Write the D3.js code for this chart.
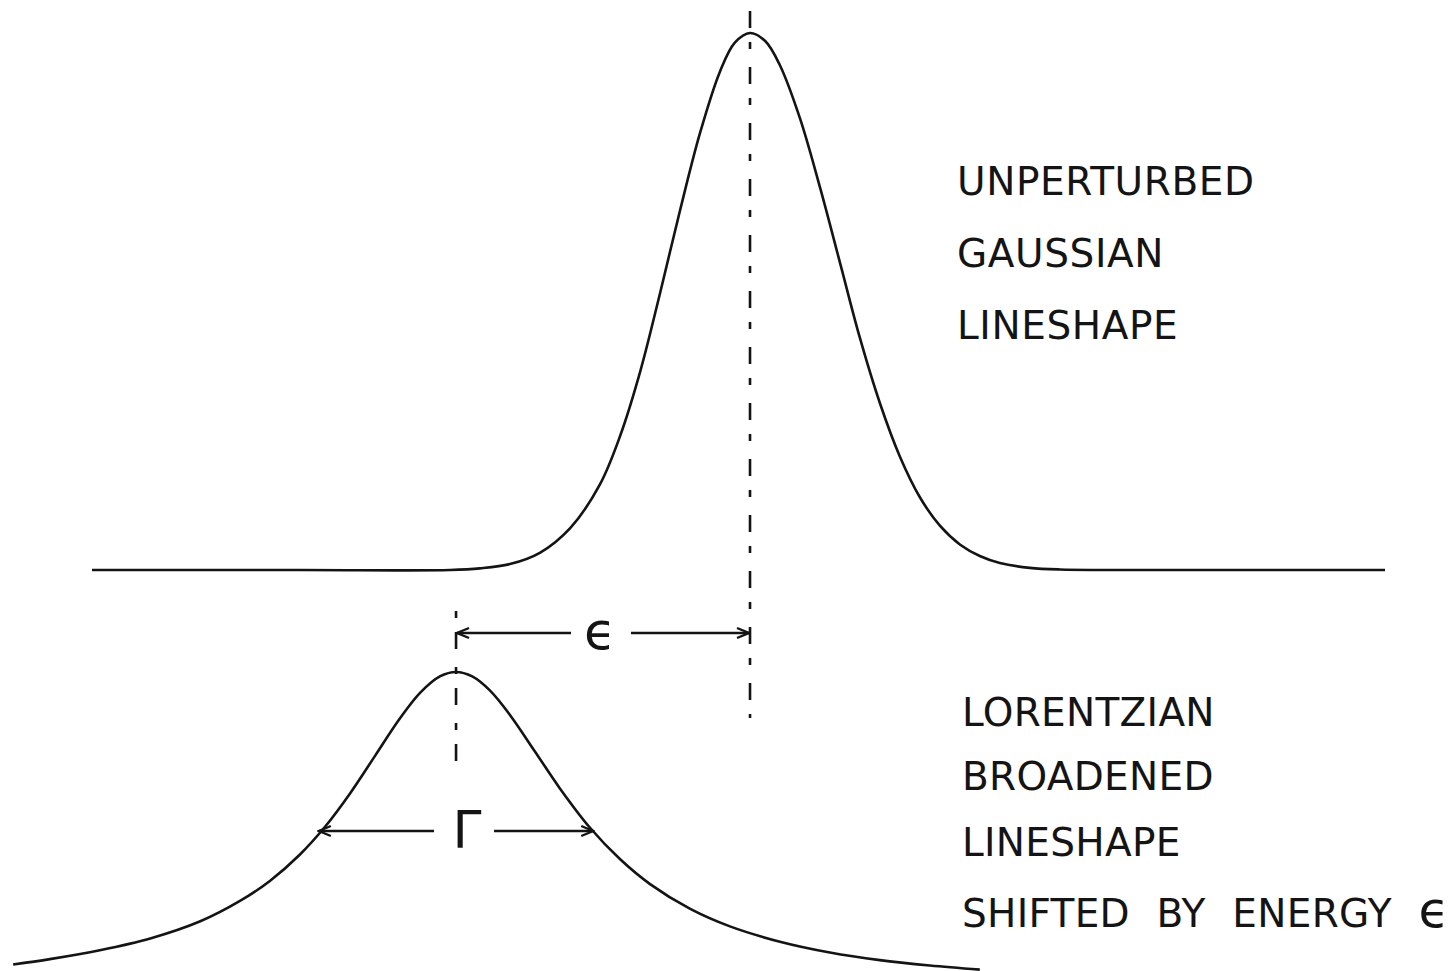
<!DOCTYPE html>
<html>
<head>
<meta charset="utf-8">
<script src="https://cdn.jsdelivr.net/npm/d3@7"></script>
<style>
  html, body { margin: 0; padding: 0; background: #ffffff; }
  svg { display: block; }
  .label { font-family: "DejaVu Sans", "Liberation Sans", sans-serif; fill: #141414; }
</style>
</head>
<body>
<svg id="chart" width="1454" height="971"></svg>
<script>
// Energy axis in arbitrary units, Gaussian centred at 0.
const gaussEnergy = [-13.43, -9.18, -6.12, -5.51, -4.90, -4.29, -3.67, -3.06, -2.65, -2.24, -1.84, -1.43, -1.02, -0.61, -0.31, 0,
                     0.31, 0.61, 1.02, 1.43, 1.84, 2.24, 2.65, 3.06, 3.47, 3.88, 4.29, 4.69, 5.10, 5.71, 6.33, 9.18, 12.96];
const gaussIntensity = [0, 0, 0, 0.003, 0.011, 0.032, 0.078, 0.160, 0.250, 0.370, 0.514, 0.669, 0.814, 0.929, 0.982, 1,
                        0.985, 0.940, 0.841, 0.712, 0.571, 0.433, 0.311, 0.211, 0.135, 0.082, 0.047, 0.026, 0.013, 0.004, 0.001, 0, 0];

// Lorentzian, shifted by -epsilon
const lorentzEnergy = [-15.04, -14.29, -13.27, -12.24, -11.22, -10.41, -9.80, -9.18, -8.67, -8.16, -7.65, -7.14, -6.73, -6.33, -6.0,
                       -5.67, -5.31, -4.90, -4.39, -3.88, -3.27, -2.65, -2.04, -1.22, -0.41, 0.61, 1.63, 2.65, 3.67, 4.69];
const lorentzIntensity = [0.080, 0.097, 0.125, 0.162, 0.216, 0.280, 0.343, 0.427, 0.514, 0.619, 0.737, 0.855, 0.935, 0.986, 1.0,
                          0.986, 0.942, 0.865, 0.750, 0.634, 0.511, 0.411, 0.333, 0.255, 0.200, 0.152, 0.118, 0.094, 0.077, 0.064];

const shiftEnergy = 6.0;     // epsilon
const lorentzFWHM = 5.6;     // Gamma

const gaussLabels = ["UNPERTURBED", "GAUSSIAN", "LINESHAPE"];
const lorentzLabels = ["LORENTZIAN", "BROADENED", "LINESHAPE", "SHIFTED BY ENERGY "];
const epsSymbol = "\u03F5";
const gammaSymbol = "\u0393";

const svg = d3.select("#chart");
const ink = "#141414";

const x = d3.scaleLinear().domain([-13.43, 12.96]).range([92, 1385]);
const yTop = d3.scaleLinear().domain([0, 1]).range([570, 33]);
const yBot = d3.scaleLinear().domain([0, 1]).range([990, 672]);

// open arrowhead
svg.append("defs").append("marker")
  .attr("id", "head")
  .attr("viewBox", "-14 -7 16 14")
  .attr("markerUnits", "userSpaceOnUse")
  .attr("markerWidth", 16).attr("markerHeight", 14)
  .attr("refX", 0).attr("refY", 0)
  .attr("orient", "auto")
  .append("path")
  .attr("d", "M-12,-5 L0,0 L-12,5")
  .attr("fill", "none").attr("stroke", ink).attr("stroke-width", 2.4)
  .attr("stroke-linejoin", "miter");

// curves
const gaussData = gaussEnergy.map((e, i) => [e, gaussIntensity[i]]);
const lorentzData = lorentzEnergy.map((e, i) => [e, lorentzIntensity[i]]);
const smooth = d3.curveCatmullRom.alpha(0.5);

svg.append("path")
  .datum(gaussData)
  .attr("d", d3.line().x(d => x(d[0])).y(d => yTop(d[1])).curve(smooth))
  .attr("fill", "none").attr("stroke", ink).attr("stroke-width", 2.6)
  .attr("stroke-linejoin", "round");

svg.append("path")
  .datum(lorentzData)
  .attr("d", d3.line().x(d => x(d[0])).y(d => yBot(d[1])).curve(smooth))
  .attr("fill", "none").attr("stroke", ink).attr("stroke-width", 2.6)
  .attr("stroke-linejoin", "round");

// dash-dot centre lines
const dashPattern = "17,14,7,18";
svg.append("line")
  .attr("x1", x(0)).attr("x2", x(0))
  .attr("y1", 11).attr("y2", 718)
  .attr("stroke", ink).attr("stroke-width", 2.6)
  .attr("stroke-dasharray", dashPattern);

svg.append("line")
  .attr("x1", x(-shiftEnergy)).attr("x2", x(-shiftEnergy))
  .attr("y1", 761).attr("y2", 610)
  .attr("stroke", ink).attr("stroke-width", 2.6)
  .attr("stroke-dasharray", dashPattern);

// epsilon dimension arrow
const epsY = 633;
const epsMid = x(-shiftEnergy / 2);
svg.append("line")
  .attr("x1", epsMid - 32).attr("x2", x(-shiftEnergy) + 1)
  .attr("y1", epsY).attr("y2", epsY)
  .attr("stroke", ink).attr("stroke-width", 2.4)
  .attr("marker-end", "url(#head)");
svg.append("line")
  .attr("x1", epsMid + 28).attr("x2", x(0) - 1)
  .attr("y1", epsY).attr("y2", epsY)
  .attr("stroke", ink).attr("stroke-width", 2.4)
  .attr("marker-end", "url(#head)");
svg.append("text")
  .attr("class", "label")
  .attr("x", epsMid - 3).attr("y", 649)
  .attr("text-anchor", "middle")
  .attr("font-size", 52)
  .text(epsSymbol);

// Gamma (FWHM) arrow
const gamY = yBot(0.5);
const gamLeft = x(-shiftEnergy - lorentzFWHM / 2);
const gamRight = x(-shiftEnergy + lorentzFWHM / 2);
const gamMid = x(-shiftEnergy) + 11;
svg.append("line")
  .attr("x1", gamMid - 33).attr("x2", gamLeft)
  .attr("y1", gamY).attr("y2", gamY)
  .attr("stroke", ink).attr("stroke-width", 2.4)
  .attr("marker-end", "url(#head)");
svg.append("line")
  .attr("x1", gamMid + 27).attr("x2", gamRight)
  .attr("y1", gamY).attr("y2", gamY)
  .attr("stroke", ink).attr("stroke-width", 2.4)
  .attr("marker-end", "url(#head)");
svg.append("text")
  .attr("class", "label")
  .attr("x", gamMid).attr("y", 848)
  .attr("text-anchor", "middle")
  .attr("font-size", 52)
  .text(gammaSymbol);

// text blocks
const topBaselines = [195, 267, 339];
svg.selectAll("text.top")
  .data(gaussLabels)
  .join("text")
  .attr("class", "label top")
  .attr("x", 957)
  .attr("y", (d, i) => topBaselines[i])
  .attr("font-size", 39)
  .attr("letter-spacing", 0.6)
  .text(d => d);

const botBaselines = [726, 790, 856, 927];
const botText = svg.selectAll("text.bot")
  .data(lorentzLabels)
  .join("text")
  .attr("class", "label bot")
  .attr("x", 962)
  .attr("y", (d, i) => botBaselines[i])
  .attr("font-size", 39)
  .attr("letter-spacing", 0.3)
  .attr("word-spacing", 14)
  .style("white-space", "pre")
  .text(d => d);
botText.filter((d, i) => i === lorentzLabels.length - 1)
  .append("tspan")
  .attr("font-size", 50)
  .text(epsSymbol);
</script>
</body>
</html>
